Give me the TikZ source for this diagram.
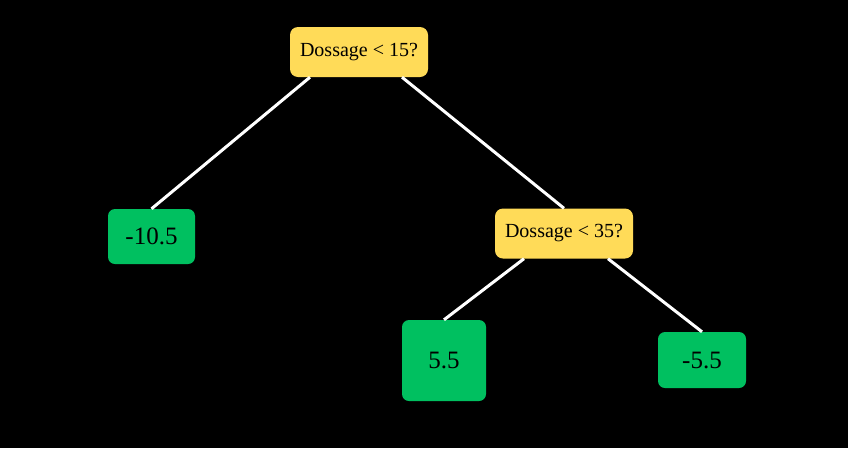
\documentclass[tikz,border=0pt]{standalone}
\usepackage{fontspec}
\setmainfont{Liberation Serif}
\definecolor{mustard}{HTML}{FFDB58}
\definecolor{leafgreen}{HTML}{00C060}
\tikzset{
  decision/.style={fill=mustard, rounded corners=8pt, inner sep=0pt,
    font=\fontsize{20}{24}\selectfont},
  leaf/.style={fill=leafgreen, rounded corners=7pt, inner sep=0pt,
    font=\fontsize{25}{29}\selectfont},
  branch/.style={white, line width=3pt}
}
\begin{document}
\begin{tikzpicture}[x=1pt, y=-1pt]
                            \fill[black] (0,0) rectangle (848,448);
                            \useasboundingbox (0,0) rectangle (848,448);

                            \node[decision, minimum width=138pt, minimum height=50pt] (root) at (359,52) {Dossage < 15?};
                            \node[leaf, minimum width=87pt, minimum height=55pt] (low) at (151.5,236.5) {-10.5};
                            \node[decision, minimum width=138pt, minimum height=50pt] (mid) at (564,233.5) {Dossage < 35?};
                            \node[leaf, minimum width=84pt, minimum height=81pt] (midlow) at (444,360.5) {5.5};
                            \node[leaf, minimum width=88pt, minimum height=56pt] (high) at (702,360) {-5.5};

                            \draw[branch] ([xshift=-49pt]root.south) -- (low.north);
                            \draw[branch] ([xshift=43pt]root.south) -- (mid.north);
                            \draw[branch] ([xshift=-40pt]mid.south) -- (midlow.north);
                            \draw[branch] ([xshift=44pt]mid.south) -- (high.north);

                        \end{tikzpicture}
\end{document}
